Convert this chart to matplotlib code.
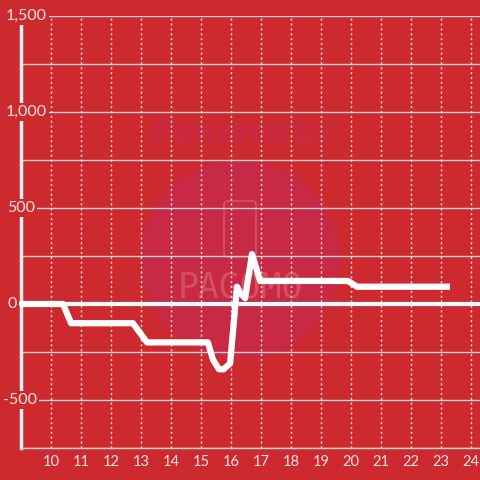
import matplotlib.pyplot as plt
from matplotlib.patches import Circle, FancyBboxPatch

# hours of the day and running value
hours = [9.0, 10.4, 10.67, 12.73, 13.2, 15.23, 15.4, 15.6, 15.75, 15.97, 16.2, 16.3, 16.47, 16.7, 16.97, 19.9, 20.2, 23.3]
values = [0, 0, -100, -100, -200, -200, -290, -340, -340, -310, 90, 60, 30, 260, 120, 120, 90, 90]

xticks = list(range(10, 25))
yticks = [1500, 1000, 500, 0, -500]
ylabels = ["1,500", "1,000", "500", "0", "-500"]
ylabel_x = [6, 6, 7, 8, 3]  # left edge of each label in pixels

bg = "#CC2A2F"
txt = "#F2E4E4"

plt.rcParams['font.family'] = ['Lato', 'DejaVu Sans']

fig = plt.figure(figsize=(4.8, 4.8), dpi=100)
fig.patch.set_facecolor(bg)
W = H = 480.0
ax = fig.add_axes([21 / W, (480 - 448) / H, 459 / W, 432 / H])
ax.set_facecolor(bg)
ax.set_xlim(9, 9 + 459 / 30)
ax.set_ylim(-750, 1500)

# watermark, under the grid
ax.add_patch(Circle((240 / W, 1 - 260 / H), 100 / W, transform=fig.transFigure,
                    facecolor="#C82945", edgecolor="none", zorder=0.2))
ax.add_patch(FancyBboxPatch((224 / W, 1 - 257 / H), 32 / W, 56 / H,
                            boxstyle="round,pad=0,rounding_size=0.008",
                            transform=fig.transFigure, facecolor="none",
                            edgecolor="#D65462", lw=1.2, zorder=0.3))
ax.text(243 / W, 1 - 133 / H, "Powered by", transform=fig.transFigure, ha="center",
        va="center", fontsize=26, fontweight="bold", style="italic", color="#C72A44",
        zorder=0.3)
ax.text(240 / W, 1 - 288 / H, "PAGOMO", transform=fig.transFigure, ha="center",
        va="center", fontsize=25, color="#D4515C", family="DejaVu Sans Mono", zorder=0.3)

# grid
for yv in range(-750, 1501, 250):
    if yv == 0:
        continue
    ax.axhline(yv, color="#D8D0D0", lw=1, zorder=1)
for xv in xticks:
    ax.axvline(xv, color="#F0E6E6", lw=1, ls=(0, (1.5, 2)), zorder=1)
ax.axhline(0, xmin=-4 / 459, xmax=1, color="white", lw=3, zorder=2, clip_on=False)

ax.plot(hours, values, color="white", lw=4.5, solid_joinstyle="round",
        solid_capstyle="butt", zorder=3)

for s in ["top", "right"]:
    ax.spines[s].set_visible(False)
ax.spines["left"].set_color("#F4F0F0")
ax.spines["left"].set_linewidth(2.5)
ax.spines["bottom"].set_color("#D8D0D0")
ax.spines["bottom"].set_linewidth(1)

ax.set_xticks(xticks)
ax.set_xticklabels([str(x) for x in xticks], color=txt, fontsize=10.5)
ax.tick_params(axis="x", length=0, pad=5)
ax.set_yticks([])

for yv, lab, px in zip(yticks, ylabels, ylabel_x):
    ax.text((px - 21) / 459, yv, lab, transform=ax.get_yaxis_transform(),
            ha="left", va="center", fontsize=11.5, color=txt, zorder=5, clip_on=False,
            bbox=dict(facecolor=bg, edgecolor="none", pad=1.5))

fig.savefig("out.png", dpi=100, facecolor=bg)
